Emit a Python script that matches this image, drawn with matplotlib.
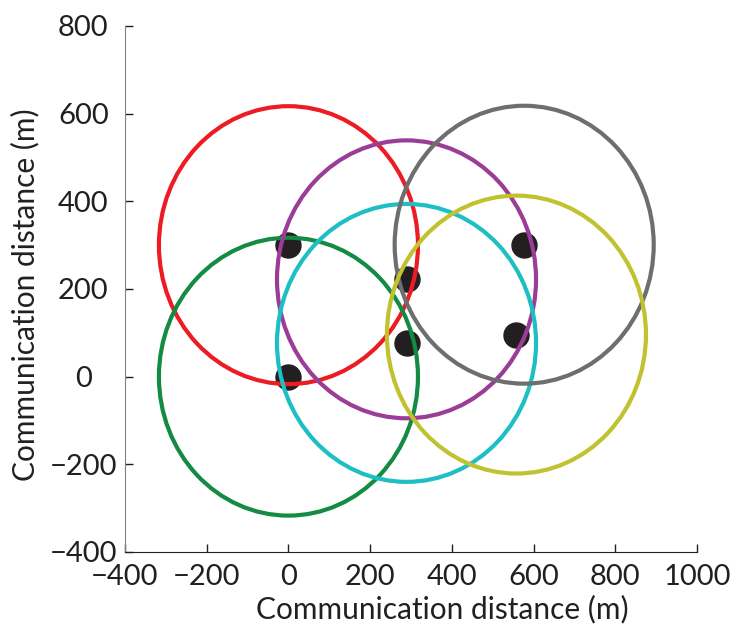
"""Communication range circles around six nodes."""

import matplotlib

matplotlib.use("Agg")
import matplotlib.pyplot as plt
from matplotlib.patches import Circle

plt.rcParams["font.family"] = ["Lato", "DejaVu Sans"]

# node positions (m) and their circle colours
node_x = [0, 0, 289, 289, 577, 558]
node_y = [300, 0, 222, 77, 301, 96]
node_colors = ["#ED1C24", "#138B43", "#9B3D96", "#1EBFC4", "#6D6E70", "#C1C230"]
comm_radius = 317

x_ticks = [-400, -200, 0, 200, 400, 600, 800, 1000]
y_ticks = [-400, -200, 0, 200, 400, 600, 800]

fig = plt.figure(figsize=(7.49, 6.32), dpi=100)
ax = fig.add_axes([0.1669, 0.1266, 0.7637, 0.8323])

ax.plot(node_x, node_y, "o", color="#231F20", markersize=18, zorder=2)

for cx, cy, color in zip(node_x, node_y, node_colors):
    ax.add_patch(Circle((cx, cy), comm_radius, fill=False, edgecolor=color,
                        linewidth=3, zorder=3))

ax.set_xlim(-400, 1000)
ax.set_ylim(-400, 800)
ax.set_xticks(x_ticks)
ax.set_yticks(y_ticks)
ax.tick_params(direction="in", length=6, width=1, labelsize=21, colors="#231F20")
ax.tick_params(axis="x", pad=9)
ax.tick_params(axis="y", pad=30)
for label in ax.get_yticklabels():
    label.set_horizontalalignment("center")

ax.spines["top"].set_visible(False)
ax.spines["right"].set_visible(False)
ax.spines["left"].set_color("#808080")
ax.spines["bottom"].set_color("#231F20")

ax.set_xlabel("Communication distance (m)", fontsize=21.5, color="#231F20")
ax.set_ylabel("Communication distance (m)", fontsize=21.5, color="#231F20")
ax.xaxis.set_label_coords(0.554, -0.082)
ax.yaxis.set_label_coords(-0.15, 0.49)

fig.savefig("out.png", dpi=100)
